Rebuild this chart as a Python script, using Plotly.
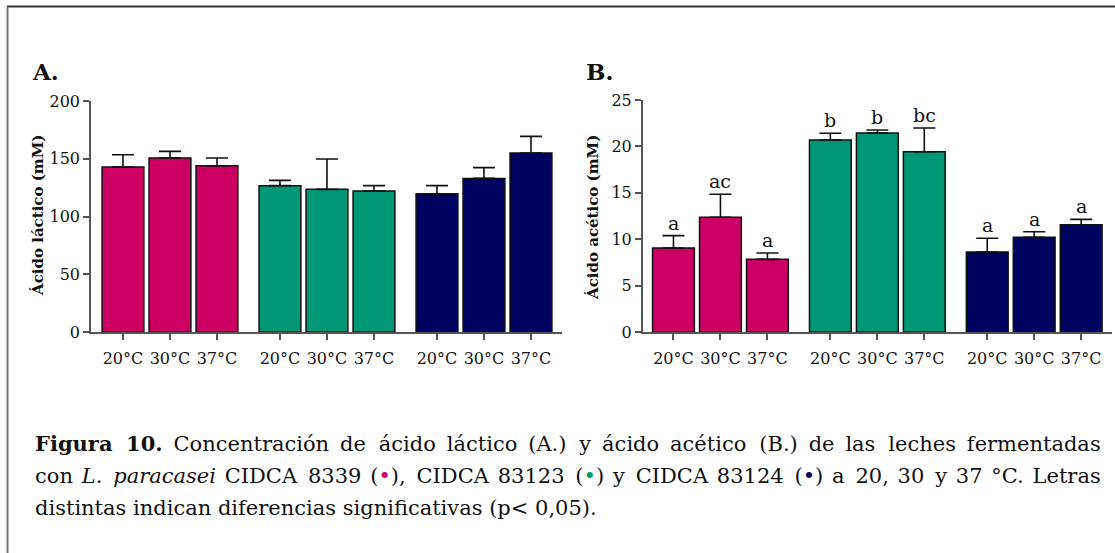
import plotly.graph_objects as go

# ---------------- data ----------------
temps = ["20°C", "30°C", "37°C"]
strains = ["CIDCA 8339", "CIDCA 83123", "CIDCA 83124"]
colors = ["#CC0062", "#009874", "#000060"]

lactic_mean = [[142.9, 150.6, 144.0], [126.7, 123.5, 122.1], [119.7, 133.0, 155.0]]
lactic_sd = [[10.6, 5.8, 6.6], [4.6, 26.3, 4.6], [7.0, 9.3, 14.4]]

acetic_mean = [[9.05, 12.36, 7.83], [20.69, 21.44, 19.43], [8.62, 10.20, 11.56]]
acetic_sd = [[1.33, 2.48, 0.68], [0.72, 0.33, 2.55], [1.48, 0.61, 0.58]]
acetic_letters = [["a", "ac", "a"], ["b", "b", "bc"], ["a", "a", "a"]]

lactic_ticks = [0, 50, 100, 150, 200]
acetic_ticks = [0, 5, 10, 15, 20, 25]

# ---------------- layout helpers ----------------
GAP = 0.34
W, H = 1115, 553
FONT = "DejaVu Serif"
THIN = "\u2009"
HAIR = "\u200A"


def xpos(g, i):
    return g * (3 + GAP) + i


fig = go.Figure()

for panel, (means, sds, xa, ya) in enumerate([
        (lactic_mean, lactic_sd, "x", "y"),
        (acetic_mean, acetic_sd, "x2", "y2")]):
    for g in range(3):
        fig.add_trace(go.Bar(
            x=[xpos(g, i) for i in range(3)],
            y=means[g],
            width=0.89,
            marker=dict(color=colors[g], line=dict(color="#111111", width=1.5)),
            error_y=dict(type="data", symmetric=False, array=sds[g],
                         arrayminus=[0, 0, 0], color="#111111",
                         thickness=1.6, width=11),
            xaxis=xa, yaxis=ya, showlegend=False, name=strains[g],
        ))

tickvals = [xpos(g, i) for g in range(3) for i in range(3)]
ticktext = [temps[i] for g in range(3) for i in range(3)]

annotations = []
for g in range(3):
    for i in range(3):
        annotations.append(dict(
            x=xpos(g, i), y=acetic_mean[g][i] + acetic_sd[g][i],
            xref="x2", yref="y2", text=acetic_letters[g][i],
            showarrow=False, yanchor="bottom", yshift=0,
            font=dict(family=FONT, size=19, color="#111111")))

axis_common = dict(showline=True, linecolor="#555555", linewidth=1.5,
                   ticks="outside", ticklen=6, tickcolor="#555555", tickwidth=1.5,
                   showgrid=False, zeroline=False, automargin=False,
                   tickfont=dict(family=FONT, size=16, color="#111111"))

xr = [-0.68, 9.34]
fig.update_layout(
    template="none",
    width=W, height=H, margin=dict(l=0, r=0, t=0, b=0, autoexpand=False),
    plot_bgcolor="white", paper_bgcolor="white",
    xaxis=dict(domain=[91 / W, 562 / W], range=xr, tickvals=tickvals, ticktext=ticktext,
               anchor="y", ticklabelstandoff=5, **axis_common),
    yaxis=dict(domain=[(H - 332) / H, (H - 101) / H], range=[0, 200], tickvals=lactic_ticks,
               anchor="x", **axis_common),
    xaxis2=dict(domain=[642.7 / W, 1111.7 / W], range=[-0.655, 9.33], tickvals=tickvals,
                ticktext=ticktext, anchor="y2", ticklabelstandoff=5, **axis_common),
    yaxis2=dict(domain=[(H - 332) / H, (H - 100) / H], range=[0, 25], tickvals=acetic_ticks,
                anchor="x2", **axis_common),
)

# panel labels and axis titles
annotations += [
    dict(x=30 / W, y=(H - 72) / H, xref="paper", yref="paper", text="<b>A.</b>",
         showarrow=False, xanchor="left", yanchor="middle",
         font=dict(family=FONT, size=23, color="#111111")),
    dict(x=584 / W, y=(H - 72) / H, xref="paper", yref="paper", text="<b>B.</b>",
         showarrow=False, xanchor="left", yanchor="middle",
         font=dict(family=FONT, size=23, color="#111111")),
    dict(x=38 / W, y=(H - 216) / H, xref="paper", yref="paper",
         text="<b>Ácido láctico (mM)</b>", textangle=-90, showarrow=False,
         xanchor="center", yanchor="middle",
         font=dict(family=FONT, size=15, color="#111111")),
    dict(x=593 / W, y=(H - 218) / H, xref="paper", yref="paper",
         text="<b>Ácido acético (mM)</b>", textangle=-90, showarrow=False,
         xanchor="center", yanchor="middle",
         font=dict(family=FONT, size=15, color="#111111")),
]


def dot(c):
    return "<span style='color:%s'>•</span>" % c


line1_words = ["<b>Figura", "10.</b>", "Concentración", "de", "ácido", "láctico", "(A.)",
               "y", "ácido", "acético", "(B.)", "de", "las", "leches", "fermentadas"]
line2_words = ["con", "<i>L.", "paracasei</i>", "CIDCA", "8339", "(" + dot(colors[0]) + "),",
               "CIDCA", "83123", "(" + dot(colors[1]) + ")", "y", "CIDCA", "83124",
               "(" + dot(colors[2]) + ")", "a", "20,", "30", "y", "37", "°C.", "Letras"]
line3 = "distintas indican diferencias significativas (p< 0,05)."


def joined(words, gap_fn):
    out = words[0]
    for i, w in enumerate(words[1:]):
        out += gap_fn(i) + w
    return out


# justified lines: widen the inter-word spaces
line1 = joined(line1_words, lambda i: " " + THIN + (HAIR if i % 3 == 0 else ""))
line2 = joined(line2_words, lambda i: " " + HAIR + (HAIR if (i % 2 == 1 and i < 16) else ""))
caption_lines = [line1, line2, line3]
for k, line in enumerate(caption_lines):
    annotations.append(dict(
        x=33 / W, y=(H - (444 + 32 * k)) / H, xref="paper", yref="paper",
        text=line, showarrow=False, xanchor="left", yanchor="middle",
        font=dict(family=FONT, size=21, color="#111111")))

fig.update_layout(annotations=annotations)

# frame lines (top and left)
fig.add_shape(type="line", xref="paper", yref="paper", x0=7 / W, x1=1, y0=(H - 6.5) / H,
              y1=(H - 6.5) / H, line=dict(color="#333333", width=2))
fig.add_shape(type="line", xref="paper", yref="paper", x0=7.5 / W, x1=7.5 / W, y0=0,
              y1=(H - 6.5) / H, line=dict(color="#777777", width=2))

fig.write_html("out.html")
